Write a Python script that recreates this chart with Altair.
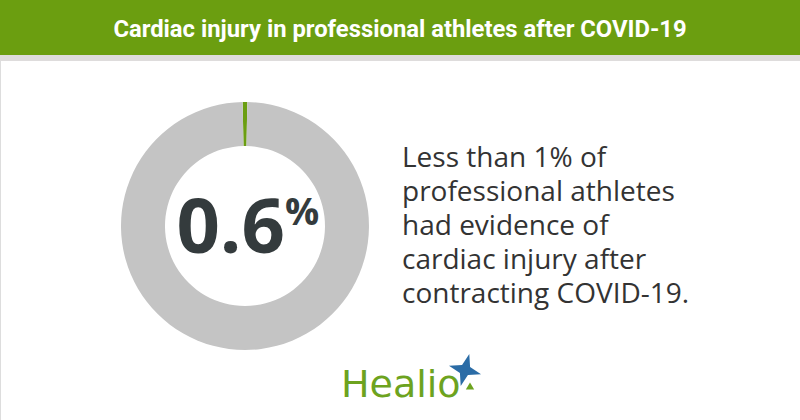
import altair as alt
import pandas as pd

# ---- data ----
categories = ["Cardiac injury", "No cardiac injury"]
values = [0.6, 99.4]
slice_colors = ["#6b9e12", "#c4c4c4"]
order = [0, 1]

title_text = "Cardiac injury in professional athletes after COVID-19"
big_number = "0.6"
big_suffix = "%"
body_lines = [
    "Less than 1% of",
    "professional athletes",
    "had evidence of",
    "cardiac injury after",
    "contracting COVID-19.",
]
brand = "Healio"

df = pd.DataFrame({"category": categories, "value": values, "order": order})
one = pd.DataFrame({"k": [0]})

W, H = 800, 420

header = alt.Chart(one).mark_rect(color="#6b9e10").encode(
    x=alt.value(0), x2=alt.value(W), y=alt.value(0), y2=alt.value(55)
)
header_shadow = alt.Chart(one).mark_rect(color="#dedcdc").encode(
    x=alt.value(0), x2=alt.value(W), y=alt.value(55), y2=alt.value(61)
)
title = alt.Chart(one).mark_text(
    text=title_text, font="Roboto",
    fontWeight="bold", fontSize=23.8, color="white", align="center", baseline="alphabetic"
).encode(x=alt.value(400), y=alt.value(37))

donut = alt.Chart(df).mark_arc(innerRadius=80, outerRadius=124, stroke=None).encode(
    theta=alt.Theta("value:Q", stack=True, scale=alt.Scale(range=[-0.019, 6.2642])),
    order=alt.Order("order:Q"),
    color=alt.Color("category:N", scale=alt.Scale(domain=categories, range=slice_colors), legend=None),
    x=alt.value(245), y=alt.value(226),
)

num = alt.Chart(one).mark_text(
    text=big_number, font="Open Sans", fontWeight="bold", fontSize=76,
    color="#343b3d", align="right", baseline="alphabetic"
).encode(x=alt.value(285), y=alt.value(253))
pct = alt.Chart(one).mark_text(
    text=big_suffix, font="Open Sans", fontWeight="bold", fontSize=38,
    color="#343b3d", align="left", baseline="alphabetic"
).encode(x=alt.value(285), y=alt.value(225))

body = alt.Chart(one).mark_text(
    text=body_lines, font="Open Sans", fontSize=28, lineHeight=34,
    color="#333333", align="left", baseline="alphabetic"
).encode(x=alt.value(402), y=alt.value(167))

logo = alt.Chart(one).mark_text(
    text=brand, font="DejaVu Sans", fontSize=38, color="#6da31f",
    align="left", baseline="alphabetic"
).encode(x=alt.value(341), y=alt.value(397))
star = alt.Chart(one).mark_point(
    shape="M0,-1L0.25,-0.25L1,0L0.25,0.25L0,1L-0.25,0.25L-1,0L-0.25,-0.25Z",
    filled=True, color="#2b6ca6", size=1100, opacity=1, angle=15
).encode(x=alt.value(465), y=alt.value(370))
tri = alt.Chart(one).mark_point(
    shape="triangle-up", filled=True, color="#6da31f", size=70, opacity=1
).encode(x=alt.value(470), y=alt.value(386))

chart = alt.layer(header, header_shadow, title, donut, num, pct, body, logo, star, tri).properties(
    width=W, height=H, padding=0, autosize=alt.AutoSizeParams(type="none")
).configure_view(stroke=None).configure(background="white")

chart.save("out.html", embed_options={"renderer": "svg", "actions": False})
